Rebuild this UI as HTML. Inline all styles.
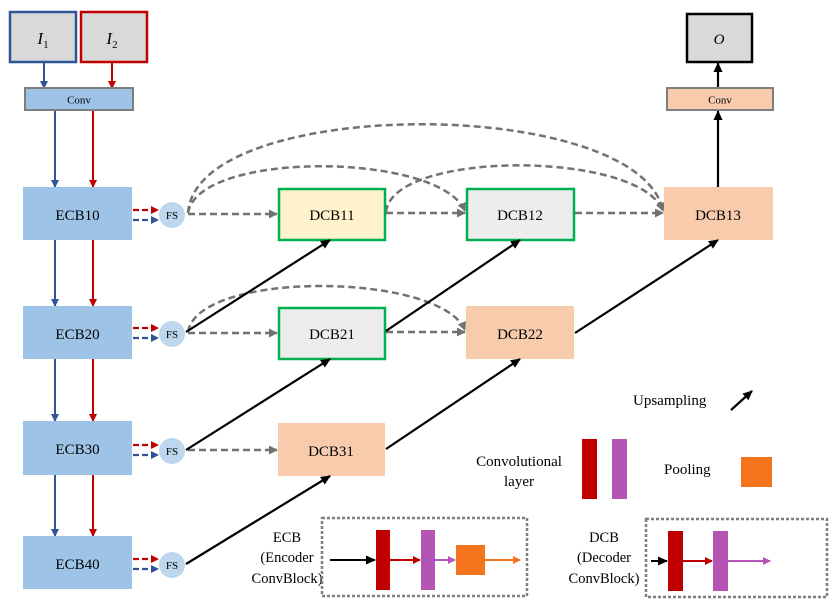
<!DOCTYPE html>
<html><head><meta charset="utf-8"><style>
html,body{margin:0;padding:0;background:#fff;}
svg{display:block;}
text{font-family:"Liberation Serif","DejaVu Serif",serif;fill:#000;}
</style></head><body>
<svg width="830" height="605" viewBox="0 0 830 605" xmlns="http://www.w3.org/2000/svg">
<defs>
<marker id="ab" markerWidth="8" markerHeight="8" refX="7" refY="4" orient="auto" markerUnits="userSpaceOnUse"><path d="M0,0 L8,4 L0,8 z" fill="#2f5597"/></marker>
<marker id="ar" markerWidth="8" markerHeight="8" refX="7" refY="4" orient="auto" markerUnits="userSpaceOnUse"><path d="M0,0 L8,4 L0,8 z" fill="#c00000"/></marker>
<marker id="ag" markerWidth="9" markerHeight="9" refX="8" refY="4.5" orient="auto" markerUnits="userSpaceOnUse"><path d="M0,0 L9,4.5 L0,9 z" fill="#767171"/></marker>
<marker id="ak" markerWidth="10" markerHeight="9" refX="9" refY="4.5" orient="auto" markerUnits="userSpaceOnUse"><path d="M0,0 L10,4.5 L0,9 z" fill="#000"/></marker>
<marker id="ap" markerWidth="8" markerHeight="8" refX="7" refY="4" orient="auto" markerUnits="userSpaceOnUse"><path d="M0,0 L8,4 L0,8 z" fill="#b455b6"/></marker>
<marker id="ao" markerWidth="8" markerHeight="8" refX="7" refY="4" orient="auto" markerUnits="userSpaceOnUse"><path d="M0,0 L8,4 L0,8 z" fill="#f4731c"/></marker>
</defs>

<!-- inputs -->
<rect x="10" y="12" width="66" height="50" fill="#d9d9d9" stroke="#2f5597" stroke-width="2.5"/>
<text x="43" y="44" font-size="17" font-style="italic" text-anchor="middle">I<tspan font-size="11" dy="4" font-style="normal">1</tspan></text>
<rect x="81" y="12" width="66" height="50" fill="#d9d9d9" stroke="#c00000" stroke-width="2.5"/>
<text x="112" y="44" font-size="17" font-style="italic" text-anchor="middle">I<tspan font-size="11" dy="4" font-style="normal">2</tspan></text>
<line x1="44" y1="63" x2="44" y2="88" stroke="#2f5597" stroke-width="2" marker-end="url(#ab)"/>
<line x1="112" y1="63" x2="112" y2="88" stroke="#c00000" stroke-width="2" marker-end="url(#ar)"/>
<rect x="25" y="88" width="108" height="22" fill="#9dc3e6" stroke="#7f7f7f" stroke-width="2"/>
<text x="79" y="103.5" font-size="11" text-anchor="middle">Conv</text>

<!-- ECB column -->
<g stroke-width="2" fill="none">
<line x1="55" y1="111" x2="55" y2="187" stroke="#2f5597" marker-end="url(#ab)"/>
<line x1="93" y1="111" x2="93" y2="187" stroke="#c00000" marker-end="url(#ar)"/>
<line x1="55" y1="240" x2="55" y2="306" stroke="#2f5597" marker-end="url(#ab)"/>
<line x1="93" y1="240" x2="93" y2="306" stroke="#c00000" marker-end="url(#ar)"/>
<line x1="55" y1="359" x2="55" y2="421" stroke="#2f5597" marker-end="url(#ab)"/>
<line x1="93" y1="359" x2="93" y2="421" stroke="#c00000" marker-end="url(#ar)"/>
<line x1="55" y1="475" x2="55" y2="536" stroke="#2f5597" marker-end="url(#ab)"/>
<line x1="93" y1="475" x2="93" y2="536" stroke="#c00000" marker-end="url(#ar)"/>
</g>
<g fill="#9dc3e6">
<rect x="23" y="187" width="109" height="53"/>
<rect x="23" y="306" width="109" height="53"/>
<rect x="23" y="421" width="109" height="54"/>
<rect x="23" y="536" width="109" height="53"/>
</g>
<g font-size="15" text-anchor="middle">
<text x="77.5" y="220">ECB10</text>
<text x="77.5" y="339">ECB20</text>
<text x="77.5" y="454">ECB30</text>
<text x="77.5" y="569">ECB40</text>
</g>

<!-- ECB -> FS dashed -->
<g stroke-width="2.2" stroke-dasharray="6,3" fill="none">
<line x1="133" y1="210" x2="158" y2="210" stroke="#c00000" marker-end="url(#ar)"/>
<line x1="133" y1="220" x2="158" y2="220" stroke="#2f5597" marker-end="url(#ab)"/>
<line x1="133" y1="328" x2="158" y2="328" stroke="#c00000" marker-end="url(#ar)"/>
<line x1="133" y1="338" x2="158" y2="338" stroke="#2f5597" marker-end="url(#ab)"/>
<line x1="133" y1="445" x2="158" y2="445" stroke="#c00000" marker-end="url(#ar)"/>
<line x1="133" y1="455" x2="158" y2="455" stroke="#2f5597" marker-end="url(#ab)"/>
<line x1="133" y1="559" x2="158" y2="559" stroke="#c00000" marker-end="url(#ar)"/>
<line x1="133" y1="569" x2="158" y2="569" stroke="#2f5597" marker-end="url(#ab)"/>
</g>
<g fill="#bdd7ee">
<circle cx="172" cy="215" r="13"/>
<circle cx="172" cy="334" r="13"/>
<circle cx="172" cy="451" r="13"/>
<circle cx="172" cy="565" r="13"/>
</g>
<g font-size="11" text-anchor="middle">
<text x="172" y="219">FS</text>
<text x="172" y="338">FS</text>
<text x="172" y="455">FS</text>
<text x="172" y="569">FS</text>
</g>

<!-- gray dashed -->
<g stroke="#767171" stroke-width="2.5" stroke-dasharray="7,4" fill="none" marker-end="url(#ag)">
<line x1="188" y1="214" x2="277" y2="214"/>
<line x1="386" y1="213" x2="465" y2="213"/>
<line x1="575" y1="213" x2="663" y2="213"/>
<line x1="188" y1="333" x2="277" y2="333"/>
<line x1="386" y1="332" x2="465" y2="332"/>
<line x1="188" y1="450" x2="277" y2="450"/>
<path d="M188,213 C198,150 440,152 465,211"/>
<path d="M188,213 C196,95 640,95 663,211"/>
<path d="M386,212 C392,150 640,150 663,211"/>
<path d="M188,332 C198,270 440,272 465,330"/>
</g>

<!-- DCB boxes -->
<rect x="279" y="189" width="106" height="51" fill="#fff2cc" stroke="#00b050" stroke-width="2.5"/>
<rect x="467" y="189" width="107" height="51" fill="#ededed" stroke="#00b050" stroke-width="2.5"/>
<rect x="664" y="187" width="109" height="53" fill="#f8cbad"/>
<rect x="279" y="308" width="106" height="51" fill="#ededed" stroke="#00b050" stroke-width="2.5"/>
<rect x="466" y="306" width="108" height="53" fill="#f8cbad"/>
<rect x="278" y="423" width="107" height="53" fill="#f8cbad"/>
<g font-size="15" text-anchor="middle">
<text x="332" y="220">DCB11</text>
<text x="520" y="220">DCB12</text>
<text x="718" y="220">DCB13</text>
<text x="332" y="339">DCB21</text>
<text x="520" y="339">DCB22</text>
<text x="331" y="456">DCB31</text>
</g>

<!-- upsampling black -->
<g stroke="#000" stroke-width="2.2" fill="none" marker-end="url(#ak)">
<line x1="186" y1="332" x2="330" y2="240"/>
<line x1="386" y1="331" x2="520" y2="240"/>
<line x1="575" y1="333" x2="718" y2="240"/>
<line x1="186" y1="450" x2="330" y2="359"/>
<line x1="386" y1="449" x2="520" y2="359"/>
<line x1="186" y1="564" x2="330" y2="476"/>
<line x1="718" y1="187" x2="718" y2="111"/>
<line x1="718" y1="88" x2="718" y2="63"/>
</g>
<rect x="667" y="88" width="106" height="22" fill="#f8cbad" stroke="#7f7f7f" stroke-width="2"/>
<text x="720" y="103.5" font-size="11" text-anchor="middle">Conv</text>
<rect x="687" y="14" width="65" height="48" fill="#d9d9d9" stroke="#000" stroke-width="2.5"/>
<text x="719" y="44" font-size="15" font-style="italic" text-anchor="middle">O</text>

<!-- legend -->
<text x="633" y="405" font-size="15">Upsampling</text>
<line x1="731" y1="410" x2="752" y2="391" stroke="#000" stroke-width="2.2" marker-end="url(#ak)"/>
<text x="519" y="466" font-size="15" text-anchor="middle">Convolutional</text>
<text x="519" y="486" font-size="15" text-anchor="middle">layer</text>
<rect x="582" y="439" width="15" height="60" fill="#c00000"/>
<rect x="612" y="439" width="15" height="60" fill="#b455b6"/>
<text x="664" y="474" font-size="15">Pooling</text>
<rect x="741" y="457" width="31" height="30" fill="#f4731c"/>

<g font-size="14.5" text-anchor="middle">
<text x="287" y="542">ECB</text>
<text x="287" y="562">(Encoder</text>
<text x="287" y="583">ConvBlock)</text>
<text x="604" y="542">DCB</text>
<text x="604" y="562">(Decoder</text>
<text x="604" y="583">ConvBlock)</text>
</g>
<rect x="322" y="518" width="205" height="78" fill="none" stroke="#7f7f7f" stroke-width="2.5" stroke-dasharray="3,2"/>
<line x1="330" y1="560" x2="375" y2="560" stroke="#000" stroke-width="2" marker-end="url(#ak)"/>
<rect x="376" y="530" width="14" height="60" fill="#c00000"/>
<line x1="390" y1="560" x2="420" y2="560" stroke="#c00000" stroke-width="2" marker-end="url(#ar)"/>
<rect x="421" y="530" width="14" height="60" fill="#b455b6"/>
<line x1="435" y1="560" x2="455" y2="560" stroke="#b455b6" stroke-width="2" marker-end="url(#ap)"/>
<rect x="456" y="545" width="29" height="30" fill="#f4731c"/>
<line x1="485" y1="560" x2="520" y2="560" stroke="#f4731c" stroke-width="2" marker-end="url(#ao)"/>

<rect x="646" y="519" width="181" height="78" fill="none" stroke="#7f7f7f" stroke-width="2.5" stroke-dasharray="3,2"/>
<line x1="651" y1="561" x2="667" y2="561" stroke="#000" stroke-width="2" marker-end="url(#ak)"/>
<rect x="668" y="531" width="15" height="60" fill="#c00000"/>
<line x1="683" y1="561" x2="712" y2="561" stroke="#c00000" stroke-width="2" marker-end="url(#ar)"/>
<rect x="713" y="531" width="15" height="60" fill="#b455b6"/>
<line x1="728" y1="561" x2="770" y2="561" stroke="#b455b6" stroke-width="2" marker-end="url(#ap)"/>
</svg>
</body></html>
